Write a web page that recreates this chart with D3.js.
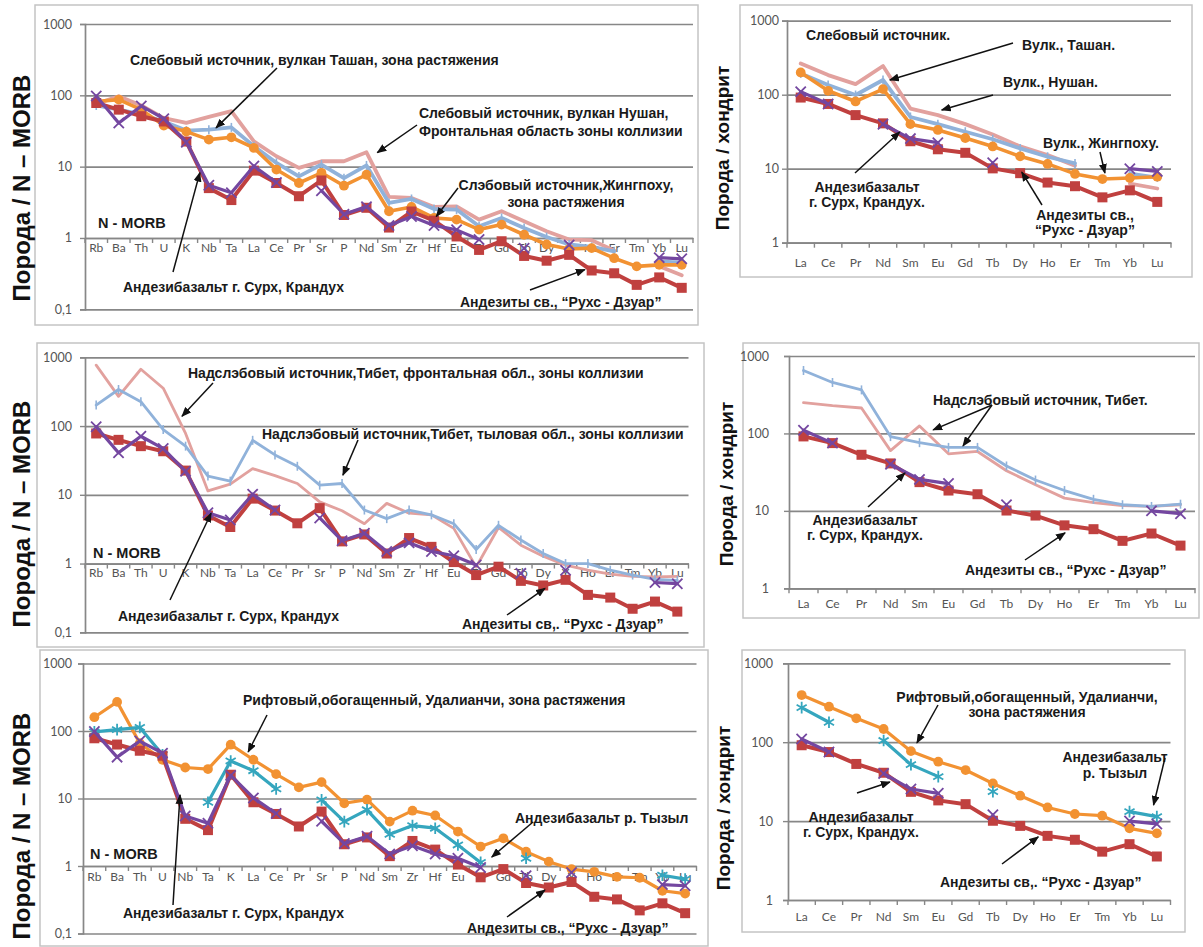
<!DOCTYPE html>
<html>
<head>
<meta charset="utf-8">
<script src="https://cdn.jsdelivr.net/npm/d3@7"></script>
<style>
  body { margin: 0; background: #fff; }
  svg { display: block; }
</style>
</head>
<body>
<svg id="fig" width="1203" height="947"></svg>
<script>
// ---- element sequences (N-MORB spider diagrams and chondrite REE) ----
const spiderTop = ["Rb","Ba","Th","U","K","Nb","Ta","La","Ce","Pr","Sr","P","Nd","Sm","Zr","Hf","Eu","Ti","Gd","Tb","Dy","Y","Ho","Er","Tm","Yb","Lu"];
const spiderBottom = ["Rb","Ba","Th","U","Nb","Ta","K","La","Ce","Pr","Sr","P","Nd","Sm","Zr","Hf","Eu","Ti","Gd","Tb","Dy","Y","Ho","Er","Tm","Yb","Lu"];
const reeElements = ["La","Ce","Pr","Nd","Sm","Eu","Gd","Tb","Dy","Ho","Er","Tm","Yb","Lu"];

// ---- rock / N-MORB, in spiderTop order (null = not analysed) ----
const andesiteSpider   = [78, 63, 51, 43, 22.5, 5.0, 3.4, 8.8, 5.9, 3.85, 6.4, 2.1, 2.65, 1.4, 2.35, 1.75, 1.05, 0.68, 0.9, 0.56, 0.48, 0.58, 0.35, 0.32, 0.22, 0.28, 0.2];
const surkhSpider      = [98, 41, 71, 47, 22, 5.5, 4.3, 10.2, 6.0, null, 4.6, 2.15, 2.75, 1.5, 2.0, 1.5, 1.3, 0.95, null, 0.72, null, 0.8, null, null, null, 0.53, 0.51];
const tashanSpider     = [72, 63, 54, 43, 32, 33, 35.5, 19.3, 11.3, 7.3, 10.7, 6.9, 10.4, 3.1, 3.52, 2.55, 2.5, 1.46, 1.91, 1.38, 1.03, 0.81, 0.75, 0.65, null, 0.47, 0.45];
const nushanSpider     = [76, 97, 72, 48, 41, 50, 60, 22.6, 14, 9.6, 11.9, 11.9, 15.9, 3.76, 3.64, 2.72, 2.78, 1.81, 2.37, 1.71, 1.24, 0.95, 0.93, 0.67, null, 0.40, 0.30];
const jingpokhuSpider  = [82, 87, 63, 37.6, 31, 23.9, 25.8, 18.3, 9.1, 5.9, 8.2, 5.4, 7.7, 2.37, 2.72, 1.91, 1.81, 1.31, 1.54, 1.11, 0.81, 0.70, 0.72, 0.52, 0.40, 0.42, 0.42];
const tibetFrontSpider = [770, 270, 670, 355, 78, 11.4, 14.3, 24, 19, 14.6, 7.9, 5.85, 3.8, 7.5, 5.4, 5.1, 3.25, 0.89, 3.35, 1.85, 1.28, 0.95, 0.80, 0.70, 0.65, 0.64, 0.65];
const tibetRearSpider  = [202, 340, 226, 89, 51, 18.7, 15.8, 62, 38, 26, 13.8, 14.6, 6.0, 4.5, 6.0, 5.1, 3.8, 1.6, 3.6, 2.2, 1.4, 1.0, 1.0, 0.80, 0.68, 0.59, 0.57];

// ---- rock / N-MORB, in spiderBottom order ----
const udalianchiSpider = [160, 270, 66, 37.5, 28.8, 27.3, 62.7, 37.5, 23, 14.6, 17.5, 8.5, 9.6, 4.55, 6.6, 5.6, 3.24, 1.94, 2.57, 1.63, 1.16, 0.90, 0.82, 0.69, 0.67, 0.43, 0.39];
const tyzylSpider      = [97, 105, 113, 44.5, null, 8.8, 36, 25.8, 13.9, null, 9.55, 4.55, 6.8, 2.95, 3.97, 3.63, 2.05, 1.13, null, 1.3, null, null, null, null, null, 0.73, 0.64];

// ---- rock / chondrite, in reeElements order ----
const andesiteRee   = [91.5, 75, 53, 41, 23.5, 18.3, 16.4, 10.1, 8.7, 6.5, 5.8, 4.1, 5.1, 3.56];
const surkhRee      = [110, 75, null, 40, 25.5, 22.5, null, 12, null, null, null, null, 10, 9.2];
const tashanRee     = [194, 135, 99, 158, 50, 40, 31.6, 25, 18.8, 14.5, 11.8, null, 8.6, 7.6];
const nushanRee     = [264, 184, 139, 244, 65, 53, 40, 29, 20, 15.3, 11, null, 6.3, 5.4];
const jingpokhuRee  = [200, 113, 81, 119, 40, 33.4, 26, 20, 14.7, 11.6, 8.5, 7.25, 7.5, 7.8];
const tibetFrontRee = [250, 228, 213, 60, 125, 54.6, 58.5, 33, 21.7, 14.6, 12.8, 11.7, 11.4, 12];
const tibetRearRee  = [650, 455, 365, 91, 76, 66, 66, 38, 25, 18.3, 14.1, 12, 11.4, 12.2];
const udalianchiRee = [396, 282, 201, 147, 77, 56.6, 44.4, 30, 21, 14.9, 12.3, 11.7, 8.1, 7.0];
const tyzylRee      = [274, 179, null, 105, 52, 36.6, null, 23.6, null, null, null, null, 13.2, 11.4];

// tick labels of the two normalisation axes
const morbTicks = [0.1, 1, 10, 100, 1000];
const chondriteTicks = [1, 10, 100, 1000];

// reorder a spiderTop-ordered array to another element sequence
const reorder = (vals, to) => to.map(e => vals[spiderTop.indexOf(e)]);

// ---- series styles ----
const RED = "#c0403f", PURPLE = "#7447a0", ORANGE = "#f29232", BLUE = "#90b2da", PINK = "#e2a19e", TEAL = "#35a6be";
const st = {
  andesite:  { color: RED,    width: 4,   marker: "square" },
  surkh:     { color: PURPLE, width: 3.2, marker: "times" },
  jingpokhu: { color: ORANGE, width: 3.6, marker: "circle" },
  tashan:    { color: BLUE,   width: 3.8, marker: "dash" },
  nushan:    { color: PINK,   width: 3.8, marker: null },
  tibetF:    { color: PINK,   width: 2.8, marker: null },
  tibetR:    { color: BLUE,   width: 2.8, marker: "dash" },
  udal:      { color: ORANGE, width: 3.2, marker: "circle" },
  tyzyl:     { color: TEAL,   width: 3.2, marker: "asterisk" }
};

const svg = d3.select("#fig");
svg.append("rect").attr("width", 1203).attr("height", 947).attr("fill", "#fff");

const defs = svg.append("defs");
defs.append("marker").attr("id", "arrowhead")
  .attr("viewBox", "0 0 10 8").attr("refX", 9).attr("refY", 4)
  .attr("markerWidth", 10).attr("markerHeight", 8).attr("markerUnits", "userSpaceOnUse")
  .attr("orient", "auto")
  .append("path").attr("d", "M0,0L10,4L0,8Z").attr("fill", "#111");

const locale = d3.formatLocale({ decimal: ",", thousands: " ", grouping: [3], currency: ["", ""] });
const tickFmt = locale.format("~r");

const NOTE_FONT = "'Liberation Sans', Arial, sans-serif";
const TICK_FONT = "Lato, 'Open Sans', sans-serif";

function drawPanel(p) {
  const g = svg.append("g");

  // panel frame
  g.append("rect")
    .attr("x", p.box[0]).attr("y", p.box[1])
    .attr("width", p.box[2] - p.box[0]).attr("height", p.box[3] - p.box[1])
    .attr("fill", "none").attr("stroke", "#c4c4c4").attr("stroke-width", 1.5);

  const x = d3.scaleBand().domain(p.cats).range([p.x0, p.x1]).paddingInner(0).paddingOuter(0);
  const cx = c => x(c) + x.bandwidth() / 2;
  const y = d3.scaleLog().domain([p.ticks[0], p.ticks[p.ticks.length - 1]]).range([p.yb, p.yt]);

  // horizontal gridlines at each decade
  g.append("g").attr("transform", `translate(${p.x0},0)`)
    .call(d3.axisLeft(y).tickValues(p.ticks).tickSize(-(p.x1 - p.x0)).tickFormat(""))
    .call(s => {
      s.select(".domain").remove();
      s.selectAll("line").attr("stroke", "#878787").attr("stroke-width", 1.7);
    });

  // vertical value axis
  g.append("g").attr("transform", `translate(${p.x0},0)`)
    .call(d3.axisLeft(y).tickValues(p.ticks).tickSize(5).tickPadding(p.yPad).tickFormat(tickFmt))
    .call(s => {
      s.select(".domain").attr("stroke", "#878787").attr("stroke-width", 1.7);
      s.selectAll("line").attr("stroke", "#878787").attr("stroke-width", 1.4);
      s.selectAll("text").attr("font-family", TICK_FONT).attr("font-size", 12.5).attr("fill", "#555");
    });

  // category axis crossing at 1
  const y1 = y(1);
  g.append("g").attr("transform", `translate(0,${y1})`)
    .call(d3.axisBottom(x).tickSize(0).tickPadding(p.xPad))
    .call(s => {
      s.select(".domain").attr("stroke", "#878787").attr("stroke-width", 1.7);
      s.selectAll("text").attr("font-family", TICK_FONT).attr("font-size", 12).attr("fill", "#555");
    });
  // tick marks between categories
  g.append("g").selectAll("line")
    .data(d3.range(p.cats.length + 1))
    .join("line")
    .attr("x1", i => p.x0 + i * x.step()).attr("x2", i => p.x0 + i * x.step())
    .attr("y1", y1).attr("y2", y1 + 5)
    .attr("stroke", "#878787").attr("stroke-width", 1.4);

  // series
  p.series.forEach(s => {
    const pts = p.cats.map((c, i) => ({ c, v: s.values[i] }));
    const line = d3.line()
      .defined(d => d.v != null)
      .x(d => cx(d.c)).y(d => y(d.v));
    g.append("path").datum(pts)
      .attr("d", line)
      .attr("fill", "none")
      .attr("stroke", s.style.color)
      .attr("stroke-width", s.style.width)
      .attr("stroke-linejoin", "round")
      .attr("stroke-linecap", "round");

    const known = pts.filter(d => d.v != null);
    const mk = s.style.marker;
    if (!mk) return;
    const mg = g.append("g");
    if (mk === "dash") {
      mg.selectAll("line").data(known).join("line")
        .attr("x1", d => cx(d.c)).attr("x2", d => cx(d.c))
        .attr("y1", d => y(d.v) - 4.5).attr("y2", d => y(d.v) + 4.5)
        .attr("stroke", s.style.color).attr("stroke-width", 1.6);
      return;
    }
    const sym = {
      square: d3.symbol(d3.symbolSquare, 100),
      circle: d3.symbol(d3.symbolCircle, 75),
      times: d3.symbol(d3.symbolTimes, 70),
      asterisk: d3.symbol(d3.symbolAsterisk, 95)
    }[mk];
    const filled = mk === "square" || mk === "circle";
    mg.selectAll("path").data(known).join("path")
      .attr("transform", d => `translate(${cx(d.c)},${y(d.v)})`)
      .attr("d", sym)
      .attr("fill", filled ? s.style.color : "none")
      .attr("stroke", filled ? "none" : s.style.color)
      .attr("stroke-width", 1.8);
  });

  // annotation texts
  p.notes.forEach(n => {
    const t = g.append("text")
      .attr("font-family", NOTE_FONT).attr("font-weight", "bold")
      .attr("font-size", n.size || 14).attr("fill", "#1a1a1a")
      .attr("text-anchor", n.anchor || "start");
    n.lines.forEach((ln, i) => {
      t.append("tspan").attr("x", n.x).attr("y", n.y + i * (n.lh || 15) + 5).text(ln);
    });
  });

  // arrows: tail in page pixels, head anchored in data space
  p.arrows.forEach(a => {
    const hx = cx(a.to[0]) + a.to[1] * x.step();
    const hy = y(a.to[2]);
    g.append("line")
      .attr("x1", a.from[0]).attr("y1", a.from[1])
      .attr("x2", hx).attr("y2", hy)
      .attr("stroke", "#111").attr("stroke-width", 1.5)
      .attr("marker-end", "url(#arrowhead)");
  });

  // value-axis title
  g.append("text")
    .attr("transform", `translate(${p.title[0]},${p.title[1]}) rotate(-90)`)
    .attr("text-anchor", "middle").attr("dy", "0.35em")
    .attr("font-family", NOTE_FONT).attr("font-weight", "bold")
    .attr("font-size", p.title[2]).attr("fill", "#111")
    .text(p.title[3]);
}

const titleMorb = "Порода / N – MORB";
const titleChon = "Порода / хондрит";
const andesiteText = "Андезиты св., “Рухс - Дзуар”";
const andesiteText2 = "Андезиты св,. “Рухс - Дзуар”";
const surkhText = "Андезибазальт г. Сурх, Крандух";

// ---- top left: N-MORB, slab sources ----
drawPanel({
  box: [35, 5, 698, 325], cats: spiderTop, x0: 85, x1: 693, yt: 24, yb: 309.3,
  ticks: morbTicks, yPad: 8, xPad: 6, title: [22, 188, 24, titleMorb],
  series: [
    { values: nushanSpider, style: st.nushan },
    { values: tashanSpider, style: st.tashan },
    { values: jingpokhuSpider, style: st.jingpokhu },
    { values: andesiteSpider, style: st.andesite },
    { values: surkhSpider, style: st.surkh }
  ],
  notes: [
    { lines: ["Слебовый источник, вулкан Ташан, зона растяжения"], x: 130, y: 60 },
    { lines: ["Слебовый источник, вулкан Нушан,", "Фронтальная область зоны коллизии"], x: 419, y: 113, lh: 18 },
    { lines: ["Слэбовый источник,Жингпоху,", "зона растяжения"], x: 566, y: 185, anchor: "middle", lh: 17 },
    { lines: ["N - MORB"], x: 98, y: 223, size: 14.5 },
    { lines: [surkhText], x: 123, y: 287 },
    { lines: [andesiteText], x: 460, y: 302 }
  ],
  arrows: [
    { from: [277, 68], to: ["Nb", 0.32, 35] },
    { from: [417, 125], to: ["Nd", 0.48, 15.7] },
    { from: [458, 188], to: ["Hf", 0.1, 2.0] },
    { from: [173, 272], to: ["K", 0.6, 8.25] },
    { from: [530, 290], to: ["Y", 0.7, 0.36] }
  ]
});

// ---- top right: chondrite, slab sources ----
drawPanel({
  box: [740, 5, 1192, 277], cats: reeElements, x0: 787, x1: 1171, yt: 20.7, yb: 242.7,
  ticks: chondriteTicks, yPad: 3, xPad: 16, title: [722, 148, 19, titleChon],
  series: [
    { values: nushanRee, style: st.nushan },
    { values: tashanRee, style: st.tashan },
    { values: jingpokhuRee, style: st.jingpokhu },
    { values: andesiteRee, style: st.andesite },
    { values: surkhRee, style: st.surkh }
  ],
  notes: [
    { lines: ["Слебовый источник."], x: 806, y: 35 },
    { lines: ["Вулк., Ташан."], x: 1022, y: 45 },
    { lines: ["Вулк., Нушан."], x: 1003, y: 82 },
    { lines: ["Вулк., Жингпоху."], x: 1043, y: 143 },
    { lines: ["Андезибазальт", "г. Сурх, Крандух."], x: 867, y: 187, anchor: "middle" },
    { lines: ["Андезиты св.,", "“Рухс - Дзуар”"], x: 1085, y: 215, anchor: "middle" }
  ],
  arrows: [
    { from: [1013, 43], to: ["Nd", 0.25, 158] },
    { from: [993, 95], to: ["Eu", 0.14, 62] },
    { from: [1100, 152], to: ["Tm", 0.09, 8.75] },
    { from: [855, 173], to: ["Nd", 0.61, 31.3] },
    { from: [1042, 205], to: ["Dy", 0.06, 9.0] }
  ]
});

// ---- middle left: N-MORB, Tibet suprasubduction source ----
drawPanel({
  box: [37, 343, 704, 647], cats: spiderTop, x0: 85, x1: 688.5, yt: 357.3, yb: 632.3,
  ticks: morbTicks, yPad: 8, xPad: 5, title: [22, 514, 24, titleMorb],
  series: [
    { values: tibetFrontSpider, style: st.tibetF },
    { values: tibetRearSpider, style: st.tibetR },
    { values: andesiteSpider, style: st.andesite },
    { values: surkhSpider, style: st.surkh }
  ],
  notes: [
    { lines: ["Надслэбовый источник,Тибет, фронтальная обл., зоны коллизии"], x: 188, y: 373 },
    { lines: ["Надслэбовый источник,Тибет, тыловая обл., зоны коллизии"], x: 262, y: 434 },
    { lines: ["N - MORB"], x: 93, y: 553, size: 14.5 },
    { lines: [surkhText], x: 118, y: 616 },
    { lines: [andesiteText2], x: 462, y: 624 }
  ],
  arrows: [
    { from: [213, 383], to: ["U", 0.84, 139] },
    { from: [358, 440], to: ["P", 0.04, 19.3] },
    { from: [170, 600], to: ["Nb", 0.14, 5.4] },
    { from: [507, 615], to: ["Dy", 0.08, 0.437] }
  ]
});

// ---- middle right: chondrite, Tibet ----
drawPanel({
  box: [743, 343, 1199, 618], cats: reeElements, x0: 789, x1: 1195, yt: 356, yb: 588.3,
  ticks: chondriteTicks, yPad: 15, xPad: 11, title: [726, 484, 19, titleChon],
  series: [
    { values: tibetFrontRee, style: st.tibetF },
    { values: tibetRearRee, style: st.tibetR },
    { values: andesiteRee, style: st.andesite },
    { values: surkhRee, style: st.surkh }
  ],
  notes: [
    { lines: ["Надслэбовый источник, Тибет."], x: 933, y: 400 },
    { lines: ["Андезибазальт", "г. Сурх, Крандух."], x: 865, y: 520, anchor: "middle" },
    { lines: [andesiteText], x: 965, y: 570 }
  ],
  arrows: [
    { from: [992, 405], to: ["Sm", 0.47, 111] },
    { from: [992, 405], to: ["Eu", 0.5, 69] },
    { from: [868, 507], to: ["Nd", 0.5, 30.9] },
    { from: [1025, 560], to: ["Ho", 0.02, 5.2] }
  ]
});

// ---- bottom left: N-MORB, enriched rift source ----
drawPanel({
  box: [40, 650, 708, 946], cats: spiderBottom, x0: 83, x1: 696.5, yt: 663.5, yb: 933.5,
  ticks: morbTicks, yPad: 6, xPad: 6, title: [22, 826, 24, titleMorb],
  series: [
    { values: udalianchiSpider, style: st.udal },
    { values: tyzylSpider, style: st.tyzyl },
    { values: reorder(andesiteSpider, spiderBottom), style: st.andesite },
    { values: reorder(surkhSpider, spiderBottom), style: st.surkh }
  ],
  notes: [
    { lines: ["Рифтовый,обогащенный, Удалианчи, зона растяжения"], x: 243, y: 700 },
    { lines: ["N - MORB"], x: 90, y: 854, size: 14.5 },
    { lines: [surkhText], x: 123, y: 913 },
    { lines: ["Андезибазальт р. Тызыл"], x: 515, y: 818 },
    { lines: [andesiteText], x: 467, y: 928 }
  ],
  arrows: [
    { from: [267, 715], to: ["K", 0.77, 48.9] },
    { from: [173, 905], to: ["U", 0.77, 11.3] },
    { from: [533, 822], to: ["Ti", 0.49, 1.36] },
    { from: [507, 917], to: ["Tb", 0.83, 0.44] }
  ]
});

// ---- bottom right: chondrite, enriched rift source ----
drawPanel({
  box: [742, 650, 1185, 932], cats: reeElements, x0: 788, x1: 1170.5, yt: 663.3, yb: 900,
  ticks: chondriteTicks, yPad: 10, xPad: 12, title: [723, 808, 19, titleChon],
  series: [
    { values: udalianchiRee, style: st.udal },
    { values: tyzylRee, style: st.tyzyl },
    { values: andesiteRee, style: st.andesite },
    { values: surkhRee, style: st.surkh }
  ],
  notes: [
    { lines: ["Рифтовый,обогащенный, Удалианчи,", "зона растяжения"], x: 1027, y: 697, anchor: "middle" },
    { lines: ["Андезибазальт", "р. Тызыл"], x: 1115, y: 757, anchor: "middle", lh: 16 },
    { lines: ["Андезибазальт", "г. Сурх, Крандух."], x: 861, y: 817, anchor: "middle" },
    { lines: [andesiteText2], x: 940, y: 882 }
  ],
  arrows: [
    { from: [938, 705], to: ["Sm", 0.22, 97.8] },
    { from: [1165, 758], to: ["Yb", 0.88, 16] },
    { from: [857, 793], to: ["Nd", 0.23, 31.3] },
    { from: [1002, 864], to: ["Dy", 0.66, 6.3] }
  ]
});
</script>
</body>
</html>
